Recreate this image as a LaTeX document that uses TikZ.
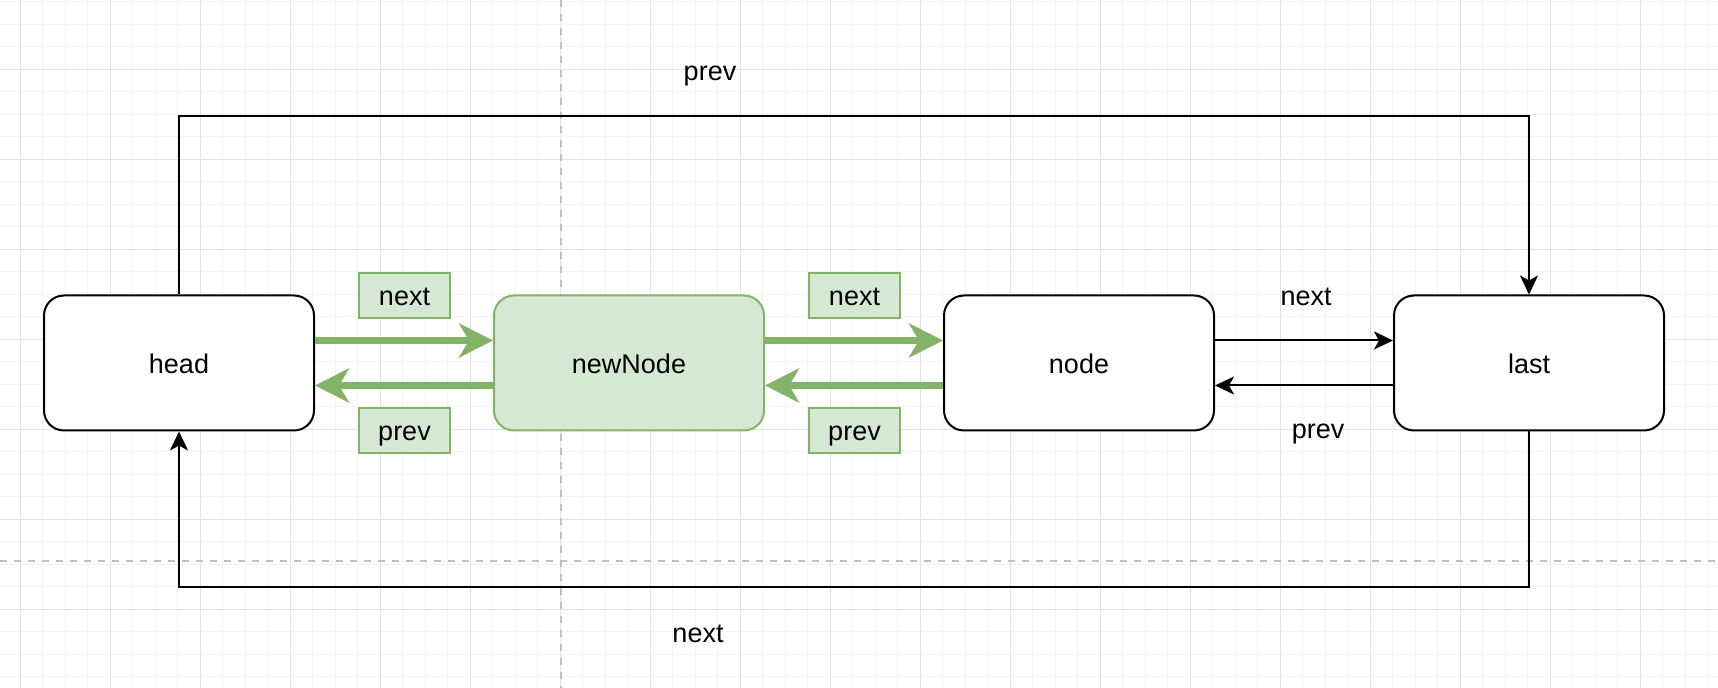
\documentclass[tikz,border=0pt]{standalone}
\usepackage{fontspec}
\setmainfont{Liberation Sans}
\usetikzlibrary{arrows.meta}
\definecolor{mygreen}{RGB}{213,232,212}
\definecolor{mygreen2}{RGB}{130,179,102}
\definecolor{gridmajor}{RGB}{226,226,226}
\definecolor{gridminor}{RGB}{244,244,244}
\definecolor{pagebreak}{RGB}{192,192,192}

\tikzset{
  every node/.append style={text height=1.05em, text depth=0.02em},
  listbox/.style={draw=black, line width=1pt, rounded corners=10pt, fill=white,
    minimum width=135pt, minimum height=67.5pt, inner sep=0pt},
  newbox/.style={listbox, draw=mygreen2, fill=mygreen},
  tagbox/.style={draw=mygreen2, fill=mygreen, line width=1pt,
    minimum width=45.5pt, minimum height=22.8pt, inner sep=0pt},
  link/.style={line width=1pt, -{Stealth[length=9.5pt,width=9pt,inset=2.5pt]}},
  greenlink/.style={draw=mygreen2, line width=3.2pt,
    -{Stealth[length=17pt,width=17pt,inset=5pt]}},
}

\begin{document}
\begin{tikzpicture}[x=0.5pt,y=-0.5pt,font=\fontsize{13.5}{16}\selectfont]
  \useasboundingbox (0,0) rectangle (1718,688);

  % Background grid
  \foreach \x in {-2.2,20.3,...,1718}
    \draw[gridminor, line width=0.5pt] (\x,0) -- (\x,688);
  \foreach \y in {1.8,24.3,...,688}
    \draw[gridminor, line width=0.5pt] (0,\y) -- (1718,\y);
  \foreach \x in {20.3,110.3,...,1718}
    \draw[gridmajor, line width=0.6pt] (\x,0) -- (\x,688);
  \foreach \y in {69.3,159.3,...,688}
    \draw[gridmajor, line width=0.6pt] (0,\y) -- (1718,\y);

  % Page break lines
  \draw[pagebreak, line width=1pt, dash pattern=on 3.5pt off 3.5pt] (561,0) -- (561,688);
  \draw[pagebreak, line width=1pt, dash pattern=on 3.5pt off 3.5pt] (0,561) -- (1718,561);

  % List nodes
  \node[listbox] (head) at (179,363) {head};
  \node[newbox] (newNode) at (629,363) {newNode};
  \node[listbox] (node) at (1079,363) {node};
  \node[listbox] (last) at (1529,363) {last};

  % Green links to the new node
  \draw[greenlink] ([yshift=11.25pt]head.east) -- ([yshift=11.25pt]newNode.west);
  \draw[greenlink] ([yshift=-11.25pt]newNode.west) -- ([yshift=-11.25pt]head.east);
  \draw[greenlink] ([yshift=11.25pt]newNode.east) -- ([yshift=11.25pt]node.west);
  \draw[greenlink] ([yshift=-11.25pt]node.west) -- ([yshift=-11.25pt]newNode.east);

  % Green tags
  \node[tagbox] (tagnext1) at (404.5,295.5) {next};
  \node[tagbox] (tagprev1) at (404.5,430.5) {prev};
  \node[tagbox] (tagnext2) at (854.5,295.5) {next};
  \node[tagbox] (tagprev2) at (854.5,430.5) {prev};

  % Links between node and last
  \draw[link] ([yshift=11.25pt]node.east) -- ([yshift=11.25pt]last.west);
  \draw[link] ([yshift=-11.25pt]last.west) -- ([yshift=-11.25pt]node.east);
  \node (lblnext) at (1306,295) {next};
  \node (lblprev) at (1318,428) {prev};

  % Loops round the ends
  \coordinate (toprow) at (0,116);
  \coordinate (bottomrow) at (0,587.5);
  \draw[link] (head.north) -- (head.north |- toprow) -| (last.north);
  \draw[link] (last.south) -- (last.south |- bottomrow) -| (head.south);
  \node (looprev) at (710,70) {prev};
  \node (loopnext) at (698,632) {next};

\end{tikzpicture}
\end{document}
